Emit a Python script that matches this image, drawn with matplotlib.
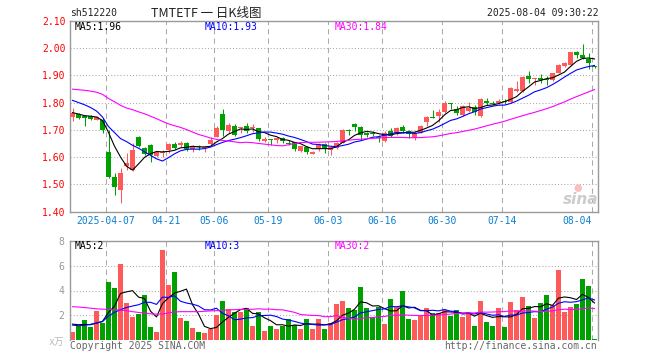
import numpy as np
import pandas as pd
import matplotlib
matplotlib.use("Agg")
import matplotlib.pyplot as plt
from matplotlib.transforms import blended_transform_factory

# daily bars 2025-03-27 .. 2025-08-04
opens = [1.748, 1.758, 1.749, 1.751, 1.737, 1.737, 1.617, 1.526, 1.480, 1.567,
         1.553, 1.674, 1.632, 1.644, 1.605, 1.615, 1.626, 1.648, 1.643, 1.652,
         1.629, 1.641, 1.632, 1.647, 1.675, 1.758, 1.697, 1.714, 1.707, 1.714,
         1.705, 1.705, 1.659, 1.665, 1.663, 1.671, 1.653, 1.654, 1.624, 1.636,
         1.613, 1.629, 1.649, 1.626, 1.632, 1.653, 1.700, 1.722, 1.712, 1.687,
         1.688, 1.675, 1.660, 1.696, 1.688, 1.709, 1.697, 1.669, 1.690, 1.730,
         1.748, 1.751, 1.767, 1.800, 1.776, 1.754, 1.769, 1.785, 1.752, 1.806,
         1.800, 1.800, 1.806, 1.802, 1.842, 1.842, 1.897, 1.886, 1.889, 1.885,
         1.883, 1.910, 1.935, 1.938, 1.985, 1.976, 1.958, 1.934]

closes = [1.761, 1.745, 1.744, 1.739, 1.746, 1.698, 1.526, 1.492, 1.541, 1.577,
          1.626, 1.639, 1.612, 1.608, 1.618, 1.619, 1.648, 1.632, 1.653, 1.629,
          1.636, 1.636, 1.634, 1.663, 1.708, 1.700, 1.717, 1.681, 1.711, 1.697,
          1.711, 1.665, 1.667, 1.662, 1.671, 1.659, 1.649, 1.629, 1.639, 1.617,
          1.620, 1.649, 1.632, 1.636, 1.653, 1.700, 1.697, 1.712, 1.681, 1.682,
          1.685, 1.671, 1.690, 1.679, 1.706, 1.697, 1.684, 1.690, 1.714, 1.748,
          1.745, 1.767, 1.800, 1.794, 1.761, 1.787, 1.781, 1.766, 1.812, 1.800,
          1.796, 1.807, 1.802, 1.853, 1.850, 1.894, 1.888, 1.891, 1.882, 1.883,
          1.910, 1.938, 1.946, 1.985, 1.976, 1.963, 1.946, 1.930]

highs = [1.779, 1.763, 1.752, 1.755, 1.750, 1.742, 1.700, 1.541, 1.559, 1.614,
         1.651, 1.676, 1.636, 1.647, 1.623, 1.626, 1.651, 1.657, 1.659, 1.656,
         1.643, 1.645, 1.638, 1.672, 1.714, 1.776, 1.724, 1.721, 1.712, 1.724,
         1.720, 1.708, 1.673, 1.665, 1.675, 1.675, 1.662, 1.657, 1.642, 1.639,
         1.624, 1.653, 1.653, 1.640, 1.657, 1.703, 1.704, 1.725, 1.714, 1.693,
         1.696, 1.680, 1.694, 1.706, 1.710, 1.718, 1.700, 1.694, 1.718, 1.751,
         1.773, 1.776, 1.804, 1.800, 1.786, 1.791, 1.802, 1.790, 1.816, 1.817,
         1.806, 1.813, 1.812, 1.856, 1.879, 1.896, 1.915, 1.891, 1.905, 1.899,
         1.910, 1.942, 1.950, 1.986, 1.990, 2.015, 1.983, 1.934]

lows = [1.733, 1.740, 1.713, 1.736, 1.735, 1.688, 1.524, 1.461, 1.431, 1.553,
        1.550, 1.636, 1.609, 1.583, 1.601, 1.601, 1.614, 1.628, 1.638, 1.624,
        1.619, 1.627, 1.618, 1.644, 1.673, 1.678, 1.687, 1.677, 1.687, 1.687,
        1.693, 1.660, 1.656, 1.644, 1.650, 1.650, 1.643, 1.624, 1.617, 1.612,
        1.611, 1.624, 1.614, 1.608, 1.628, 1.650, 1.681, 1.697, 1.665, 1.675,
        1.678, 1.657, 1.656, 1.675, 1.682, 1.688, 1.669, 1.663, 1.688, 1.714,
        1.742, 1.730, 1.763, 1.777, 1.755, 1.750, 1.766, 1.755, 1.748, 1.791,
        1.791, 1.795, 1.795, 1.800, 1.838, 1.838, 1.873, 1.864, 1.871, 1.865,
        1.880, 1.907, 1.931, 1.934, 1.962, 1.961, 1.922, 1.925]

# volume, x万
volumes = [0.67, 1.12, 1.66, 1.07, 2.36, 1.39, 4.71, 4.20, 6.16, 3.00,
           1.87, 2.12, 3.64, 1.07, 0.67, 7.26, 4.44, 5.52, 1.79, 1.55,
           0.99, 0.67, 0.59, 0.88, 2.06, 3.16, 2.52, 2.28, 2.28, 2.60,
           1.15, 2.28, 0.72, 1.15, 0.94, 1.15, 1.71, 1.20, 0.94, 1.71,
           0.94, 1.71, 0.91, 1.35, 2.92, 3.16, 2.60, 2.44, 4.28, 2.60,
           1.87, 2.68, 1.31, 3.32, 2.68, 3.96, 1.71, 1.63, 2.03, 2.60,
           2.20, 2.20, 2.44, 1.95, 2.44, 1.87, 2.28, 1.15, 3.16, 1.47,
           1.15, 2.60, 1.07, 3.08, 2.44, 3.48, 2.76, 1.79, 3.00, 3.64,
           2.84, 5.65, 2.28, 2.68, 2.92, 4.93, 4.36, 0.10]

# moving average values at the start of the window (history before the chart)
ma5_head = [1.763, 1.758, 1.752, 1.750]
ma10_head = [1.808, 1.800, 1.792, 1.782, 1.769, 1.747, 1.712, 1.690, 1.668]
ma30_head = [1.849, 1.847, 1.845, 1.842, 1.838, 1.830, 1.815, 1.803, 1.790, 1.780,
             1.774, 1.766, 1.759, 1.750, 1.741, 1.731, 1.722, 1.715, 1.709, 1.701,
             1.692, 1.683, 1.677, 1.670, 1.665, 1.661, 1.659, 1.656, 1.653]
vol_ma5_head = [1.30, 1.25, 1.28, 1.25]
vol_ma10_head = [1.22, 1.17, 1.20, 1.28, 1.40, 1.50, 1.95, 2.25, 2.45]
vol_ma30_head = [2.70, 2.67, 2.63, 2.58, 2.53, 2.50, 2.47, 2.45, 2.43, 2.38,
                 2.30, 2.24, 2.18, 2.13, 2.10, 2.12, 2.20, 2.28, 2.30, 2.30,
                 2.30, 2.30, 2.33, 2.36, 2.38, 2.41, 2.44, 2.46, 2.48]

# legend texts as shown on the chart
price_ma_labels = ["MA5:1.96", "MA10:1.93", "MA30:1.84"]
vol_ma_labels = ["MA5:2", "MA10:3", "MA30:2"]

date_ticks = [6, 16, 24, 33, 43, 52, 62, 72, 87]
date_labels = ["2025-04-07", "04-21", "05-06", "05-19", "06-03",
               "06-16", "06-30", "07-14", "08-04"]

RED = "#FF5A5A"
GREEN = "#00A000"
GRID = "#AAAAAA"
SPINE = "#999999"
MA_COLORS = ["black", "#0000FF", "#FF00FF"]


def moving_average(values, window, head):
    ma = pd.Series(values).rolling(window).mean()
    ma.iloc[:len(head)] = head
    return ma.values


plt.rcParams["font.family"] = ["DejaVu Sans Mono", "Noto Sans CJK SC"]
plt.rcParams["font.size"] = 7

o = np.array(opens)
c = np.array(closes)
x = np.arange(len(closes))
colors = np.where(c >= o, RED, GREEN)

price_mas = [moving_average(closes, 5, ma5_head),
             moving_average(closes, 10, ma10_head),
             moving_average(closes, 30, ma30_head)]
vol_mas = [moving_average(volumes, 5, vol_ma5_head),
           moving_average(volumes, 10, vol_ma10_head),
           moving_average(volumes, 30, vol_ma30_head)]

W, H = 660, 360
fig = plt.figure(figsize=(6.6, 3.6), dpi=100)
ax = fig.add_axes([70 / W, 1 - 211.7 / H, 528 / W, 191 / H])
axv = fig.add_axes([70 / W, 1 - 340.3 / H, 528 / W, 99.6 / H])

xlim = (-5 / 12, len(closes) - 5 / 12)

# price panel
for y in np.arange(1.5, 2.01, 0.1):
    ax.axhline(y, color=GRID, lw=0.75, ls=(0, (1, 2)), zorder=0)
for t in date_ticks:
    ax.axvline(t - 0.37, color=GRID, lw=0.75, ls=(0, (5, 4)), zorder=0)

ax.vlines(x, lows, highs, colors=colors, lw=0.75, zorder=2)
body_low = np.minimum(o, c)
body_h = np.maximum(np.abs(c - o), 0.0035)
ax.bar(x, body_h, bottom=body_low, width=5 / 6, color=colors, linewidth=0, zorder=3)

for ma, col in zip(price_mas, MA_COLORS):
    ax.plot(x, ma, color=col, lw=0.8, zorder=4)

ax.set_xlim(*xlim)
ax.set_ylim(1.40, 2.10)
ax.set_yticks(np.arange(1.4, 2.101, 0.1))
ax.set_yticklabels(["%.2f" % v for v in np.arange(1.4, 2.101, 0.1)])
ax.tick_params(axis="y", length=0, pad=3, labelcolor="#FF0000", labelsize=7)
ax.set_xticks([])
for s in ax.spines.values():
    s.set_color(SPINE)
    s.set_linewidth(1)

# volume panel
for y in [2, 4, 6]:
    axv.axhline(y, color=GRID, lw=0.75, ls=(0, (1, 2)), zorder=0)
for t in date_ticks:
    axv.axvline(t - 0.37, color=GRID, lw=0.75, ls=(0, (5, 4)), zorder=0)

axv.bar(x, volumes, width=5 / 6, color=colors, linewidth=0, zorder=2)
for ma, col in zip(vol_mas, MA_COLORS):
    axv.plot(x, ma, color=col, lw=0.8, zorder=4)

axv.set_xlim(*xlim)
axv.set_ylim(0, 8)
axv.set_yticks([2, 4, 6, 8])
axv.tick_params(axis="y", length=0, pad=4, labelcolor="#999999", labelsize=7)
axv.set_xticks([])
for s in axv.spines.values():
    s.set_color(SPINE)
    s.set_linewidth(1)
axv.spines["bottom"].set_visible(False)

# date labels under price panel
trans = blended_transform_factory(ax.transData, fig.transFigure)
for t, lab in zip(date_ticks, date_labels):
    ha = "right" if t == date_ticks[-1] else "center"
    xt = t - 0.5 if ha == "right" else t - 0.4
    ax.text(xt, 1 - 221 / H, lab, transform=trans, ha=ha, va="center",
            color="#0A7FD0", fontsize=7, clip_on=False)

# header
fig.text(70 / W, 1 - 13 / H, "sh512220", ha="left", va="center", color="#222222", fontsize=7)
fig.text(151 / W, 1 - 13 / H, "TMTETF 一 日K线图", ha="left", va="center",
         color="#222222", fontsize=9, family=["Noto Sans CJK SC", "DejaVu Sans"])
fig.text(599 / W, 1 - 13 / H, "2025-08-04 09:30:22", ha="right", va="center",
         color="#222222", fontsize=7)

# moving average labels
for xpos, lab, col in zip([75, 205, 335], price_ma_labels, MA_COLORS):
    fig.text(xpos / W, 1 - 26.5 / H, lab, ha="left", va="center", color=col, fontsize=7)
for xpos, lab, col in zip([75, 205, 335], vol_ma_labels, MA_COLORS):
    fig.text(xpos / W, 1 - 246 / H, lab, ha="left", va="center", color=col, fontsize=7)

# footer
fig.text(64 / W, 1 - 341.5 / H, "x万", ha="right", va="center", color="#BBBBBB", fontsize=7)
fig.text(70 / W, 1 - 346 / H, "Copyright 2025 SINA.COM", ha="left", va="center", color="#666666", fontsize=7)
fig.text(597 / W, 1 - 346 / H, "http://finance.sina.com.cn", ha="right", va="center", color="#666666", fontsize=7)

# sina watermark
fig.text(581 / W, 1 - 200 / H, "sina", ha="center", va="center", color="#CCCCCC",
         fontsize=11, fontweight="bold", fontstyle="italic", family="DejaVu Sans")
fig.text(578 / W, 1 - 188 / H, "●", ha="center", va="center", color="#F6C0C0",
         fontsize=7, family="DejaVu Sans")

fig.savefig("out.png", dpi=100)
plt.close(fig)
